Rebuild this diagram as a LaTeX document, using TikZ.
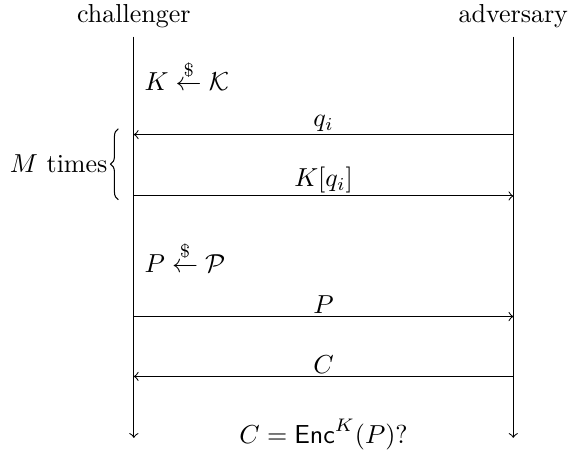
\documentclass[tikz,border=0pt]{standalone}
\usepackage{amsmath}
\usetikzlibrary{decorations.pathreplacing}

\begin{document}
\begin{tikzpicture}[
  party/.style={anchor=base},
  lifeline/.style={->},
  msg/.style={->},
  msglabel/.style={above, inner sep=1pt},
  note/.style={anchor=base west},
  brace/.style={decorate, decoration={brace, amplitude=3pt}}
]
\useasboundingbox (0,0) rectangle (7.68,6.19);

\node[party] (chal) at (1.81,5.89) {challenger};
\node[party] (adv) at (6.94,5.89) {adversary};
\coordinate (chalend) at (1.81,0.27);
\coordinate (advend) at (6.94,0.27);

\draw[lifeline] (chal) -- (chalend);
\draw[lifeline] (adv) -- (advend);

\node[note] (keygen) at (1.83,4.96) {$K \stackrel{\$}{\leftarrow} \mathcal{K}$};

\coordinate (qc) at (1.81,4.37);
\coordinate (qa) at (6.94,4.37);
\coordinate (kc) at (1.81,3.54);
\coordinate (ka) at (6.94,3.54);

\draw[msg] (qa) -- node[msglabel] {$q_i$} (qc);
\draw[msg] (kc) -- node[msglabel] {$K[q_i]$} (ka);

\coordinate (brbot) at (1.60,3.49);
\coordinate (brtop) at (1.60,4.45);
\draw[brace] (brbot) -- node[left=3pt, inner sep=1pt] (times) {$M$ times} (brtop);

\node[note] (ptgen) at (1.83,2.51) {$P \stackrel{\$}{\leftarrow} \mathcal{P}$};

\coordinate (pc) at (1.81,1.91);
\coordinate (pa) at (6.94,1.91);
\coordinate (cc) at (1.81,1.10);
\coordinate (ca) at (6.94,1.10);

\draw[msg] (pc) -- node[msglabel] {$P$} (pa);
\draw[msg] (ca) -- node[msglabel] {$C$} (cc);

\node[party] (check) at (4.375,0.20) {$C = \mathsf{Enc}^K(P)?$};

\end{tikzpicture}
\end{document}
